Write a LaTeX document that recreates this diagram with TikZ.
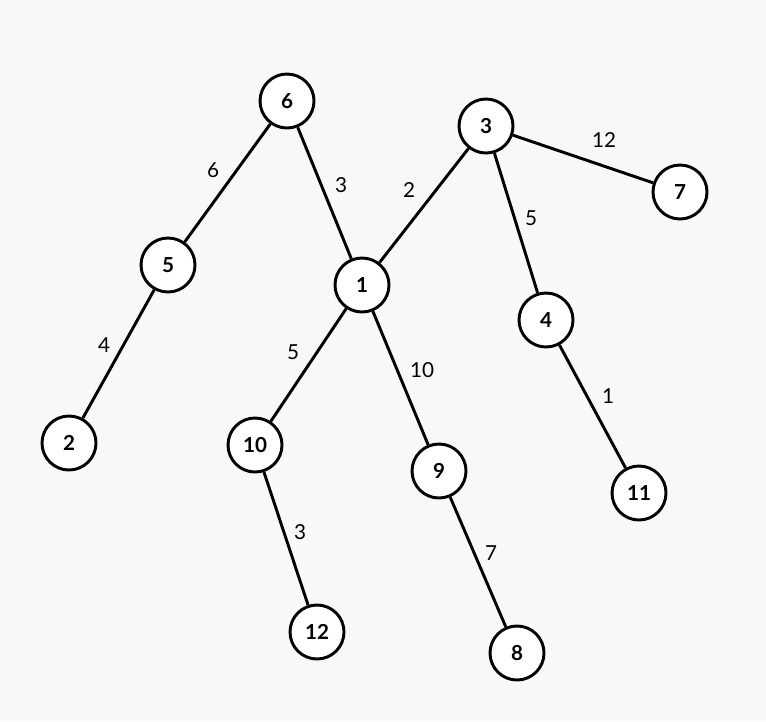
\documentclass[tikz,border=0pt]{standalone}
\usepackage{fontspec}
\setmainfont{Lato}
\definecolor{paperGray}{RGB}{248,248,248}
\begin{document}
\begin{tikzpicture}[x=0.75pt,y=-0.75pt,
        vx/.style={circle,draw=black,fill=white,line width=2.2pt,
                   minimum size=40.5pt,inner sep=0pt,font=\fontsize{15.5}{17}\selectfont\bfseries},
        wt/.style={font=\fontsize{15.5}{17}\selectfont,inner sep=1pt},
        ed/.style={line width=2.2pt}]
        \fill[paperGray] (0,0) rectangle (766,721);
        \useasboundingbox (0,0) rectangle (766,721);
        % vertices
        \foreach \v/\x/\y in {6/287/101,3/486/126,7/680/192,5/168/265,1/362/285,
                              4/546/320,2/69/443,10/255/445,9/439/471,11/639/493,
                              12/317/632,8/517/653}{
          \node[vx] (n\v) at (\x,\y) {\v};
        }
        % weighted edges
        \foreach \a/\b/\w/\lx/\ly in {6/5/6/213/170,6/1/3/341/185,3/1/2/409/190,
                                      3/7/12/604/140,3/4/5/531/218,5/2/4/104/345,
                                      1/10/5/293/352,1/9/10/422/370,4/11/1/608/396,
                                      10/12/3/300/532,9/8/7/491/553}{
          \draw[ed] (n\a) -- (n\b);
          \node[wt] (w\a-\b) at (\lx,\ly) {\w};
        }
      \end{tikzpicture}
\end{document}
